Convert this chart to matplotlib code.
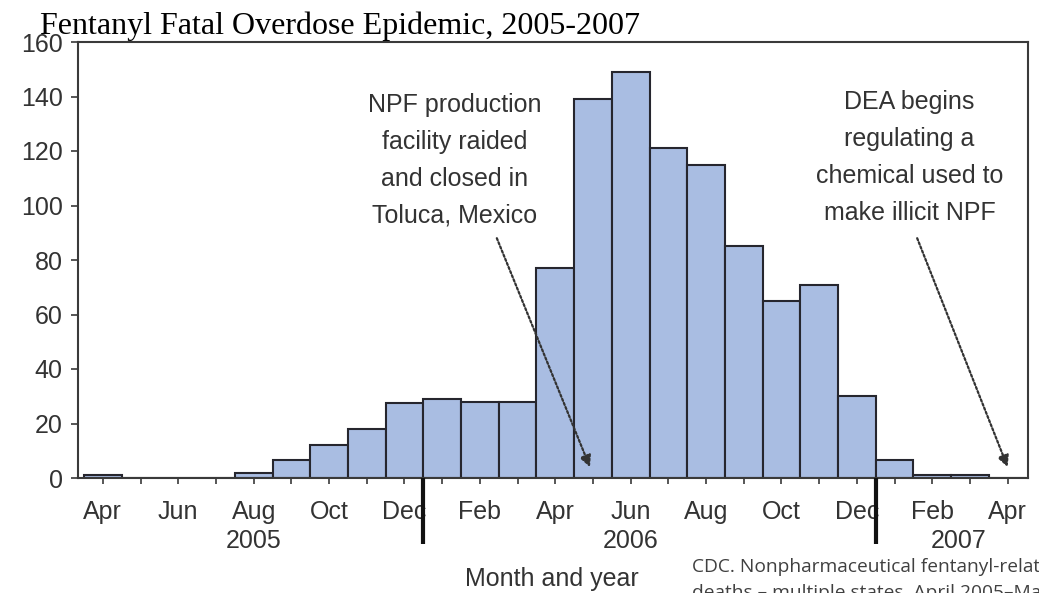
import matplotlib
matplotlib.use('Agg')
import matplotlib.pyplot as plt
import matplotlib.transforms as mtrans
from matplotlib.ticker import FixedLocator, FixedFormatter

# ---------------- data ----------------
months = ['Apr', 'May', 'Jun', 'Jul', 'Aug', 'Sep', 'Oct', 'Nov', 'Dec',
          'Jan', 'Feb', 'Mar', 'Apr', 'May', 'Jun', 'Jul', 'Aug', 'Sep',
          'Oct', 'Nov', 'Dec', 'Jan', 'Feb', 'Mar', 'Apr']
deaths = [1, 0, 0, 0, 2, 6.5, 12, 18, 27.5, 29, 28, 28, 77, 139, 149, 121,
          115, 85, 65, 71, 30, 6.5, 1, 1, 0]
years = ['2005', '2006', '2007']
y_ticks = [0, 20, 40, 60, 80, 100, 120, 140, 160]
title = 'Fentanyl Fatal Overdose Epidemic, 2005-2007'
note1 = 'NPF production\nfacility raided\nand closed in\nToluca, Mexico'
note2 = 'DEA begins\nregulating a\nchemical used to\nmake illicit NPF'
citation = ('CDC. Nonpharmaceutical fentanyl-related\n'
            'deaths \u2013 multiple states, April 2005\u2013March 2007.')

# ---------------- style ----------------
SANS = ['Liberation Sans', 'DejaVu Sans']
TXT = '#333333'
AX = '#3a3a3a'
BAR = '#a9bde2'
EDGE = '#26262e'
FS = 18

fig = plt.figure(figsize=(10.39, 5.93), dpi=100)
ax = fig.add_axes([78 / 1039, 1 - 478 / 593, 950 / 1039, 436 / 593])

x = list(range(len(months)))
ax.bar(x, deaths, width=1.0, color=BAR, edgecolor=EDGE, linewidth=1.5, zorder=2)

ax.set_xlim(-0.66, 24.54)
ax.set_ylim(0, 160)

for s in ax.spines.values():
    s.set_color(AX)
    s.set_linewidth(1.5)

ax.yaxis.set_major_locator(FixedLocator(y_ticks))
ax.set_yticklabels([str(v) for v in y_ticks])
ax.tick_params(axis='y', direction='out', length=5, width=1.2, color=AX,
               labelsize=FS, labelcolor=TXT, pad=6)
for t in ax.get_yticklabels():
    t.set_fontfamily(SANS)

major = x[::2]
ax.xaxis.set_major_locator(FixedLocator(major))
ax.xaxis.set_major_formatter(FixedFormatter([months[i] for i in major]))
ax.xaxis.set_minor_locator(FixedLocator(x[1::2]))
ax.tick_params(axis='x', which='both', direction='out', length=4.5, width=1.2,
               color=AX, labelsize=FS, labelcolor=TXT, pad=11)
for t in ax.get_xticklabels():
    t.set_fontfamily(SANS)

# year labels and separators
trans = mtrans.blended_transform_factory(ax.transData, ax.transAxes)
year_pos = [4, 14, 22.7]
for yr, p in zip(years, year_pos):
    ax.text(p, -0.144, yr, transform=trans, ha='center', va='center',
            fontsize=FS, color=TXT, family=SANS)
for b in [8.5, 20.5]:
    ax.plot([b, b], [0, -0.152], transform=trans, clip_on=False,
            color='#111111', lw=3, solid_capstyle='butt', zorder=5)

ax.text(0.499, -0.232, 'Month and year', transform=ax.transAxes,
        ha='center', va='center', fontsize=FS, color=TXT, family=SANS)

# annotations
ax.text(9.34, 116.6, note1, ha='center', va='center', fontsize=FS,
        color=TXT, family=SANS, linespacing=1.68)
ax.text(21.4, 117.6, note2, ha='center', va='center', fontsize=FS,
        color=TXT, family=SANS, linespacing=1.68)
arrow_kw = dict(arrowstyle='-|>', color='#333333', lw=1.6,
                linestyle=(0, (1.0, 1.0)), mutation_scale=17, shrinkA=0, shrinkB=0)
ax.annotate('', xy=(12.92, 4), xytext=(10.45, 88), arrowprops=arrow_kw, zorder=6)
ax.annotate('', xy=(24.0, 4), xytext=(21.6, 88), arrowprops=arrow_kw, zorder=6)

# title and citation (citation runs off the edge as in the original slide)
fig.text(40 / 1039, 1 - 26 / 593, title, ha='left', va='center',
         fontsize=23, family=['Liberation Serif', 'DejaVu Serif'], color='black')
fig.text(692 / 1039, 1 - 558 / 593, citation, ha='left', va='top',
         fontsize=13.8, family=['Open Sans', 'DejaVu Sans'], color='#404040',
         linespacing=1.55)

fig.savefig('out.png', dpi=100)
